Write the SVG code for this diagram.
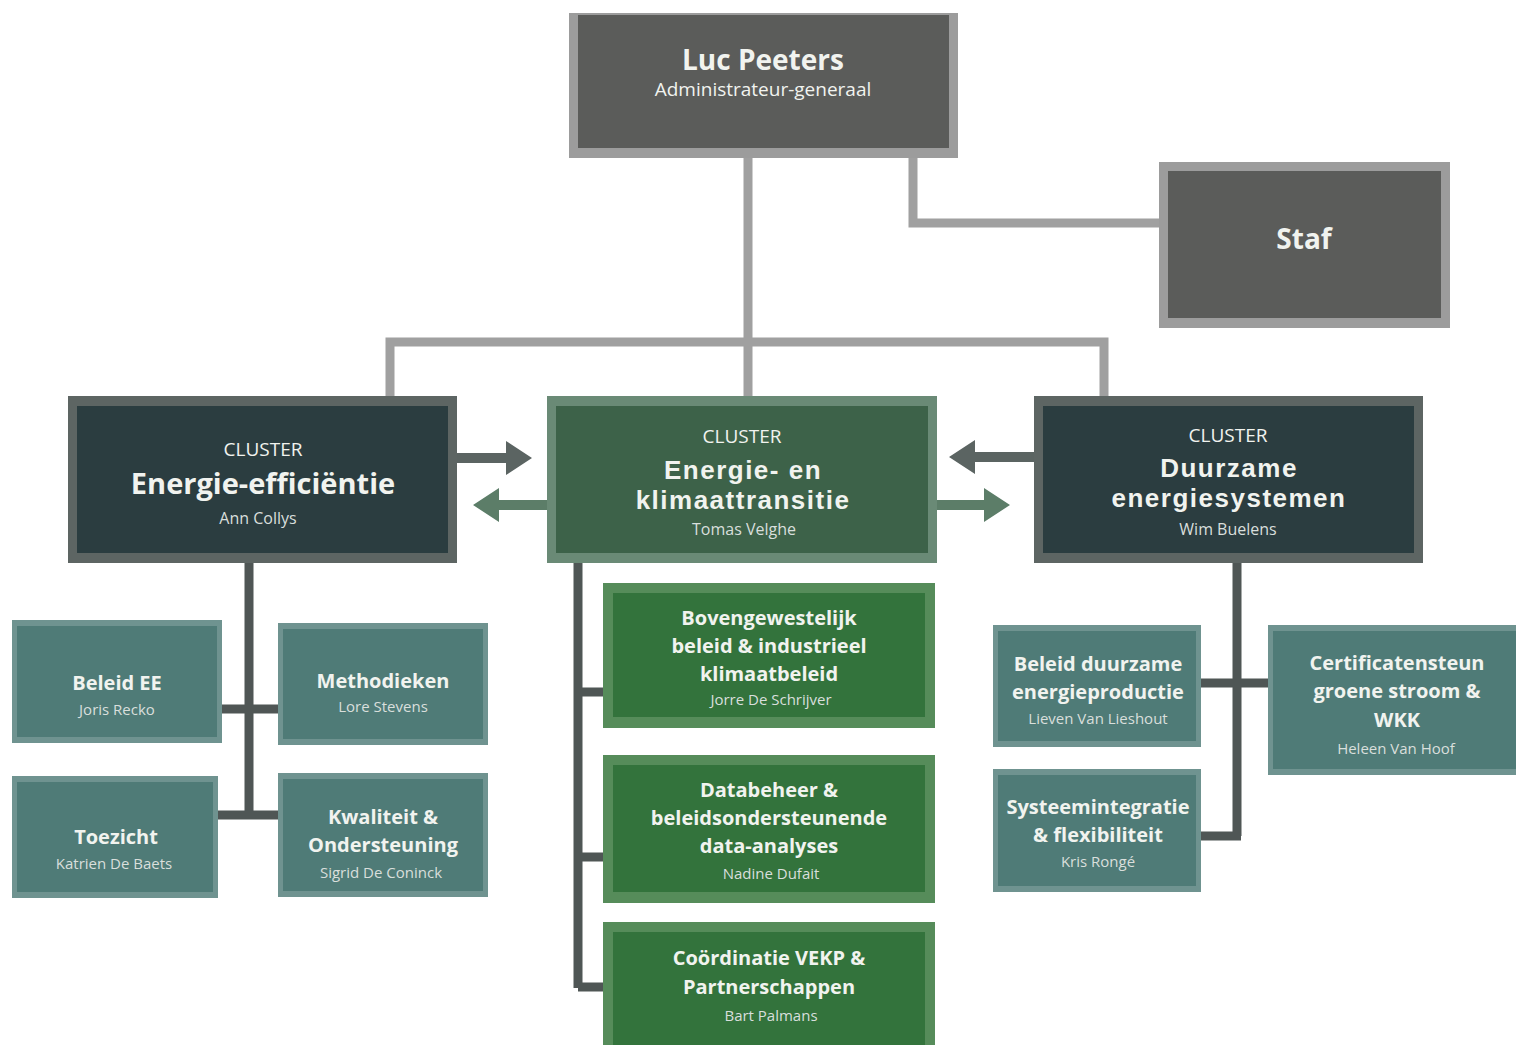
<svg xmlns="http://www.w3.org/2000/svg" width="1516" height="1045" viewBox="0 0 1516 1045">
<style>
text{font-family:"Open Sans","Noto Sans","DejaVu Sans",sans-serif;text-anchor:middle;fill:#f1f3ef}
.b{font-weight:bold}
.t2{font-family:"Liberation Sans",Arial,sans-serif;font-weight:bold;font-size:26px;letter-spacing:1.5px}
.n{fill:#d9dfdc}
.grayO{fill:#9c9c9c}.grayI{fill:#5b5c5a}
.darkO{fill:#5d6563}.darkI{fill:#2b3d40}
.grnO{fill:#6a8a76}.grnI{fill:#3d6249}
.tealO{fill:#6f9390}.tealI{fill:#4f7b77}
.gsO{fill:#568c5a}.gsI{fill:#33733c}
.c1{stroke:#a0a0a0;stroke-width:9;fill:none}
.c2{stroke:#4f5655;stroke-width:9;fill:none}
.ag{fill:#5b6462}.aG{fill:#5c7d68}
</style>
<rect width="1516" height="1045" fill="#ffffff"/>
<g id="connectors">
<path class="c1" d="M748 158V398M913 158V223H1160M390 398V342H1104V398"/>
<path class="c2" d="M249 563V815M222 709H278M218 815H278"/>
<path class="c2" d="M578 563V988M578 692H603M578 857H603M578 987H603"/>
<path class="c2" d="M1237 563V836M1201 683H1268M1201 836H1241"/>
<polygon class="ag" points="457,453 506,453 506,441 532,458 506,475 506,463 457,463"/>
<polygon class="aG" points="547,500 499,500 499,488 473,505 499,522 499,510 547,510"/>
<polygon class="ag" points="1034,452 975,452 975,440 949,457 975,474 975,462 1034,462"/>
<polygon class="aG" points="937,500 984,500 984,488 1010,505 984,522 984,510 937,510"/>
</g>
<g id="luc">
<rect class="grayO" x="569" y="13" width="389" height="145"/>
<rect class="grayI" x="578" y="15" width="371" height="133"/>
<text class="b" x="763" y="70" font-size="28">Luc Peeters</text>
<text x="763" y="96" font-size="19">Administrateur-generaal</text>
</g>
<g id="staf">
<rect class="grayO" x="1159" y="162" width="291" height="166"/>
<rect class="grayI" x="1168" y="171" width="273" height="147"/>
<text class="b" x="1304" y="249" font-size="28">Staf</text>
</g>
<g id="cluster-ee">
<rect class="darkO" x="68" y="396" width="389" height="167"/>
<rect class="darkI" x="77" y="406" width="371" height="147"/>
<text x="263" y="456" font-size="19">CLUSTER</text>
<text class="b" x="263" y="494" font-size="29">Energie-efficiëntie</text>
<text class="n" x="258" y="524" font-size="16">Ann Collys</text>
</g>
<g id="cluster-ekt">
<rect class="grnO" x="547" y="396" width="390" height="167"/>
<rect class="grnI" x="556" y="406" width="372" height="147"/>
<text x="742" y="443" font-size="19">CLUSTER</text>
<text class="t2"><tspan x="743" y="479">Energie- en</tspan><tspan x="743" y="508.5">klimaattransitie</tspan></text>
<text class="n" x="744" y="535" font-size="16">Tomas Velghe</text>
</g>
<g id="cluster-des">
<rect class="darkO" x="1034" y="396" width="389" height="167"/>
<rect class="darkI" x="1043" y="406" width="371" height="147"/>
<text x="1228" y="442" font-size="19">CLUSTER</text>
<text class="t2"><tspan x="1229" y="477">Duurzame</tspan><tspan x="1229" y="506.5">energiesystemen</tspan></text>
<text class="n" x="1228" y="535" font-size="16">Wim Buelens</text>
</g>
<g id="beleid-ee">
<rect class="tealO" x="12" y="620" width="210" height="123"/>
<rect class="tealI" x="17" y="626" width="200" height="111"/>
<text class="b" x="117" y="690" font-size="20">Beleid EE</text>
<text class="n" x="117" y="715" font-size="15">Joris Recko</text>
</g>
<g id="methodieken">
<rect class="tealO" x="278" y="623" width="210" height="122"/>
<rect class="tealI" x="283" y="629" width="200" height="110"/>
<text class="b" x="383" y="688" font-size="20">Methodieken</text>
<text class="n" x="383" y="712" font-size="15">Lore Stevens</text>
</g>
<g id="toezicht">
<rect class="tealO" x="12" y="776" width="206" height="122"/>
<rect class="tealI" x="17" y="782" width="196" height="110"/>
<text class="b" x="116" y="844" font-size="20">Toezicht</text>
<text class="n" x="114" y="869" font-size="15">Katrien De Baets</text>
</g>
<g id="kwaliteit">
<rect class="tealO" x="278" y="773" width="210" height="124"/>
<rect class="tealI" x="283" y="779" width="200" height="112"/>
<text class="b" font-size="20"><tspan x="383" y="824">Kwaliteit &amp;</tspan><tspan x="383" y="852">Ondersteuning</tspan></text>
<text class="n" x="381" y="878" font-size="15">Sigrid De Coninck</text>
</g>
<g id="bovengewestelijk">
<rect class="gsO" x="603" y="583" width="332" height="145"/>
<rect class="gsI" x="613" y="593" width="312" height="124"/>
<text class="b" font-size="20"><tspan x="769" y="625">Bovengewestelijk</tspan><tspan x="769" y="653">beleid &amp; industrieel</tspan><tspan x="769" y="681">klimaatbeleid</tspan></text>
<text class="n" x="771" y="705" font-size="15">Jorre De Schrijver</text>
</g>
<g id="databeheer">
<rect class="gsO" x="603" y="755" width="332" height="148"/>
<rect class="gsI" x="613" y="765" width="312" height="127"/>
<text class="b" font-size="20"><tspan x="769" y="797">Databeheer &amp;</tspan><tspan x="769" y="825">beleidsondersteunende</tspan><tspan x="769" y="853">data-analyses</tspan></text>
<text class="n" x="771" y="879" font-size="15">Nadine Dufait</text>
</g>
<g id="coordinatie">
<rect class="gsO" x="603" y="922" width="332" height="130"/>
<rect class="gsI" x="613" y="932" width="312" height="120"/>
<text class="b" font-size="20"><tspan x="769" y="965">Coördinatie VEKP &amp;</tspan><tspan x="769" y="994">Partnerschappen</tspan></text>
<text class="n" x="771" y="1021" font-size="15">Bart Palmans</text>
</g>
<g id="beleid-duurzame">
<rect class="tealO" x="993" y="625" width="208" height="122"/>
<rect class="tealI" x="998" y="631" width="198" height="110"/>
<text class="b" font-size="20"><tspan x="1098" y="671">Beleid duurzame</tspan><tspan x="1098" y="699">energieproductie</tspan></text>
<text class="n" x="1098" y="724" font-size="15">Lieven Van Lieshout</text>
</g>
<g id="systeemintegratie">
<rect class="tealO" x="993" y="769" width="208" height="123"/>
<rect class="tealI" x="998" y="775" width="198" height="111"/>
<text class="b" font-size="20"><tspan x="1098" y="814">Systeemintegratie</tspan><tspan x="1098" y="842">&amp; flexibiliteit</tspan></text>
<text class="n" x="1098" y="867" font-size="15">Kris Rongé</text>
</g>
<g id="certificatensteun">
<rect class="tealO" x="1268" y="625" width="250" height="150"/>
<rect class="tealI" x="1273" y="631" width="243" height="138"/>
<text class="b" font-size="20"><tspan x="1397" y="670">Certificatensteun</tspan><tspan x="1397" y="698">groene stroom &amp;</tspan><tspan x="1397" y="727">WKK</tspan></text>
<text class="n" x="1396" y="754" font-size="15">Heleen Van Hoof</text>
</g>
</svg>
